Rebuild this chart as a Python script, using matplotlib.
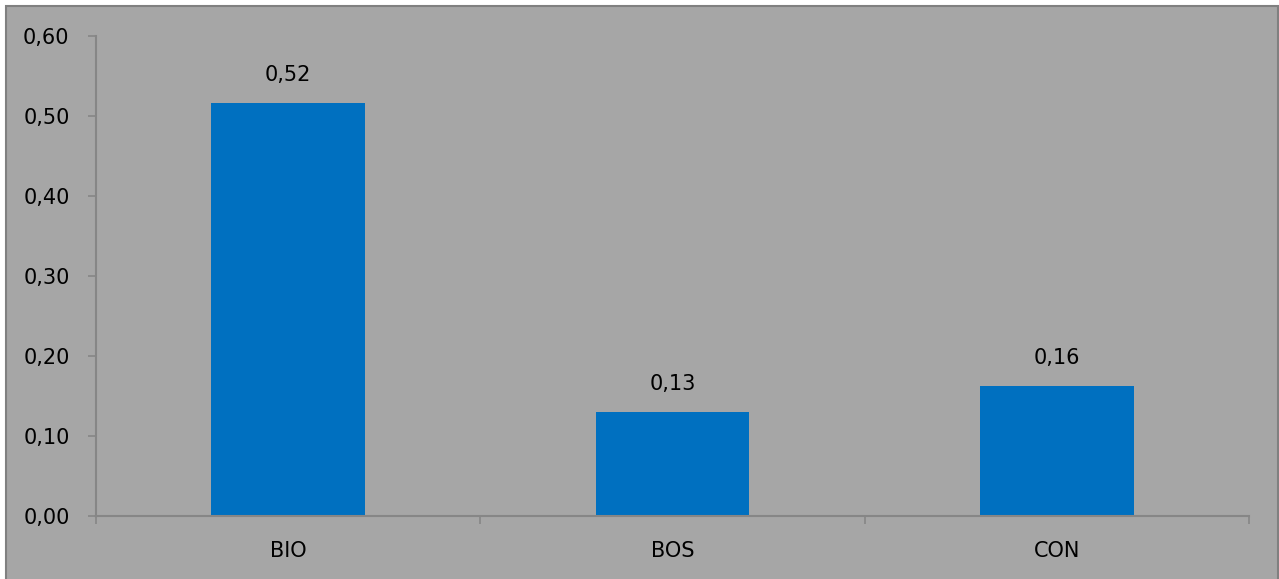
import matplotlib
matplotlib.use('Agg')
import matplotlib.pyplot as plt
from matplotlib.patches import Rectangle

# 数据
categories = ['BIO', 'BOS', 'CON']
values = [0.516, 0.13, 0.163]
y_ticks = [0.0, 0.1, 0.2, 0.3, 0.4, 0.5, 0.6]

BG = '#a6a6a6'
BAR = '#0070c0'
AXIS = '#868686'
FS = 15

plt.rcParams['font.family'] = ['DejaVu Sans']

W, H = 1279, 579
fig = plt.figure(figsize=(W / 100, H / 100), dpi=100, facecolor='white')

# 外框 (灰色底 + 深灰边)
fig.patches.append(Rectangle((6 / W, -0.01), (W - 6 - 1) / W, (H - 6) / H + 0.01,
                             transform=fig.transFigure, facecolor=BG,
                             edgecolor='#808080', linewidth=1.5, zorder=-10))

ax = fig.add_axes([96 / W, (H - 516) / H, (1249 - 96) / W, (516 - 36) / H])
ax.set_facecolor('none')
ax.set_zorder(5)

x = range(len(categories))
ax.bar(x, values, width=0.4, color=BAR, zorder=2)

for xi, v in zip(x, values):
    ax.annotate(f'{v:.2f}'.replace('.', ','), xy=(xi, v), xytext=(0, 13),
                textcoords='offset points', ha='center', va='bottom',
                fontsize=FS, color='black')

ax.set_xlim(-0.5, len(categories) - 0.5)
ax.set_ylim(0, 0.6)
ax.set_yticks(y_ticks)
ax.set_yticklabels([f'{t:.2f}'.replace('.', ',') for t in y_ticks], fontsize=FS)
ax.set_xticks(list(x))
ax.set_xticklabels(categories, fontsize=FS)
ax.set_xticks([i - 0.5 for i in range(len(categories) + 1)], minor=True)

ax.tick_params(axis='x', which='major', length=0, pad=18)
ax.tick_params(axis='x', which='minor', length=6, color=AXIS, width=1.2)
ax.tick_params(axis='y', length=6, color=AXIS, width=1.2, pad=13)

for s in ['top', 'right']:
    ax.spines[s].set_visible(False)
for s in ['left', 'bottom']:
    ax.spines[s].set_color(AXIS)
    ax.spines[s].set_linewidth(1.5)

fig.savefig('out.png', dpi=100, facecolor='white')
